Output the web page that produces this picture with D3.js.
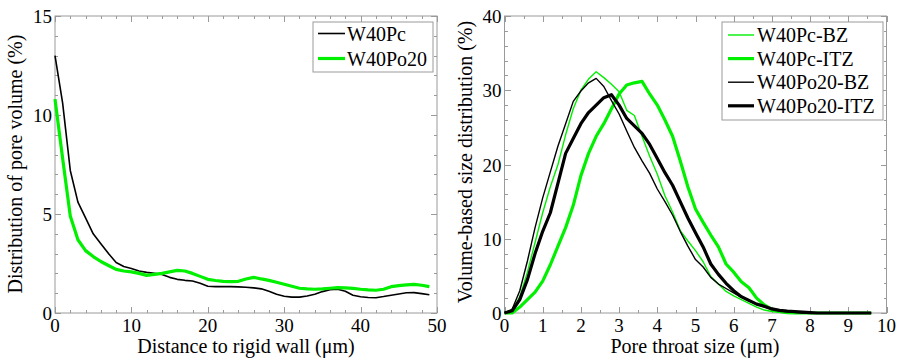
<!DOCTYPE html>
<html>
<head>
<meta charset="utf-8">
<script src="https://cdn.jsdelivr.net/npm/d3@7"></script>
<style>
  html, body { margin: 0; padding: 0; background: #fff; }
  svg text { font-family: "Liberation Serif", "Times New Roman", serif; fill: #000; }
</style>
</head>
<body>
<svg id="chart" width="903" height="359"></svg>
<script>
// ---------- Left panel data ----------
const distance = [0,1,2,3,4,5,6,7,8,9,10,11,12,13,14,15,16,17,18,19,20,21,22,23,24,25,26,27,28,29,30,31,32,33,34,35,36,37,38,39,40,41,42,43,44,45,46,47,48,49];
const W40Pc = [13.0,10.6,7.2,5.6,4.8,4.0,3.5,3.0,2.55,2.35,2.25,2.12,2.05,2.0,1.95,1.8,1.7,1.65,1.62,1.5,1.35,1.33,1.33,1.33,1.32,1.3,1.27,1.22,1.1,0.95,0.85,0.8,0.8,0.86,0.95,1.08,1.18,1.2,1.1,0.9,0.82,0.78,0.77,0.83,0.9,0.96,1.02,1.03,0.98,0.92];
const W40Po20 = [10.8,7.8,4.9,3.7,3.15,2.85,2.6,2.4,2.2,2.12,2.08,2.0,1.9,1.95,2.0,2.08,2.15,2.12,2.0,1.85,1.7,1.64,1.6,1.58,1.6,1.72,1.8,1.72,1.65,1.55,1.45,1.35,1.25,1.22,1.2,1.22,1.25,1.28,1.27,1.24,1.2,1.17,1.15,1.2,1.33,1.38,1.42,1.45,1.4,1.33];
const leftXTicks = [0,10,20,30,40,50];
const leftYTicks = [0,5,10,15];

// ---------- Right panel data ----------
const throatSize = [0,0.2,0.4,0.6,0.8,1,1.2,1.4,1.6,1.8,2,2.2,2.4,2.6,2.8,3,3.2,3.4,3.6,3.8,4,4.2,4.4,4.6,4.8,5,5.2,5.4,5.6,5.8,6,6.2,6.4,6.6,6.8,7,7.2,7.4,7.6,7.8,8,8.2,8.4,8.6,8.8,9,9.2,9.4,9.6];
const W40Pc_BZ = [0,0.2,2.2,5.5,9.5,13.5,17,20,24,27.5,30,31.5,32.5,31.7,30.8,29.8,27.3,26.6,23.8,21.1,18.7,15.8,13.6,11.1,9.7,8.4,6.9,4.9,3.9,2.9,2.3,1.8,1.3,0.8,0.4,0.2,0.1,0,0,0,0,0,0,0,0,0,0,0,0];
const W40Pc_ITZ = [0,0,0.8,1.8,2.8,4.3,6.5,9,11.5,14.5,18.5,21.5,23.8,25.5,27.5,29.5,30.7,31,31.2,29.5,28,26,23.8,20.5,17,14,12.2,10.5,8.9,6.6,5.5,4.2,3.4,2.0,1.1,0.5,0.2,0.05,0,0,0,0,0,0,0,0,0,0,0];
const W40Po20_BZ = [0,0.5,3,7,11.5,15.5,19,22.5,25.5,28.5,29.9,31,31.6,30.5,28.6,26.8,24.5,22.3,20.5,18.8,16.7,15,13.2,11,9,7.2,6.2,4.8,3.9,3.3,2.7,2.1,1.6,1.2,0.8,0.55,0.3,0.15,0.05,0,0,0,0,0,0,0,0,0,0];
const W40Po20_ITZ = [0,0.3,1.8,4.5,8,11,13.5,17.5,21.5,23.5,25.5,27,28,29,29.4,28,26.2,25.2,24.2,22.7,20.8,18.9,17.2,15,12.8,10.8,8.9,6.6,5.2,4.0,3.0,2.2,1.7,1.2,0.9,0.55,0.35,0.25,0.2,0.12,0.05,0,0,0,0,0,0,0,0];
const rightXTicks = [0,1,2,3,4,5,6,7,8,9,10];
const rightYTicks = [0,10,20,30,40];

const GREEN = "#00f000";
const FRAME = "#9a9a9a";

const svg = d3.select("#chart");

function panel(opts) {
  const g = svg.append("g");
  const x = d3.scaleLinear().domain(opts.xDomain).range(opts.xRange);
  const y = d3.scaleLinear().domain(opts.yDomain).range(opts.yRange);
  const [x0, x1] = opts.xRange, [y0, y1] = opts.yRange;

  // minor + major ticks (inward, on all four sides)
  const tickG = g.append("g").attr("stroke", FRAME).attr("stroke-width", 1).attr("shape-rendering", "crispEdges");
  opts.xMinor.forEach(v => {
    const major = opts.xTicks.includes(v);
    const L = major ? 6 : 3;
    const px = Math.round(x(v)) + 0.5;
    tickG.append("line").attr("x1", px).attr("x2", px).attr("y1", y0).attr("y2", y0 - L);
    tickG.append("line").attr("x1", px).attr("x2", px).attr("y1", y1).attr("y2", y1 + L);
  });
  opts.yMinor.forEach(v => {
    const major = opts.yTicks.includes(v);
    const L = major ? 6 : 3;
    const py = Math.round(y(v)) + 0.5;
    tickG.append("line").attr("x1", x0).attr("x2", x0 + L).attr("y1", py).attr("y2", py);
    tickG.append("line").attr("x1", x1).attr("x2", x1 - L).attr("y1", py).attr("y2", py);
  });

  // frame
  g.append("rect").attr("x", x0).attr("y", y1).attr("width", x1 - x0).attr("height", y0 - y1)
    .attr("fill", "none").attr("stroke", FRAME).attr("stroke-width", 1);

  // tick labels
  g.selectAll(".xl").data(opts.xTicks).enter().append("text")
    .attr("x", d => x(d)).attr("y", y0 + 19).attr("text-anchor", "middle")
    .attr("font-size", 19).text(d => d);
  g.selectAll(".yl").data(opts.yTicks).enter().append("text")
    .attr("x", x0 - 3).attr("y", d => y(d) + 7).attr("text-anchor", "end")
    .attr("font-size", 19).text(d => d);

  // axis titles
  g.append("text").attr("x", opts.xTitlePos[0]).attr("y", opts.xTitlePos[1]).attr("text-anchor", "middle")
    .attr("font-size", 20).text(opts.xTitle);
  g.append("text").attr("transform", `translate(${opts.yTitlePos[0]},${opts.yTitlePos[1]}) rotate(-90)`)
    .attr("text-anchor", "middle").attr("font-size", 20).text(opts.yTitle);

  // series
  const line = d3.line().x(d => x(d[0])).y(d => y(d[1]));
  opts.series.forEach(s => {
    g.append("path").datum(opts.xs.map((xv, i) => [xv, s.values[i]]))
      .attr("fill", "none").attr("stroke", s.color).attr("stroke-width", s.width)
      .attr("stroke-linejoin", "round").attr("d", line);
  });

  // legend
  const lg = opts.legend;
  g.append("rect").attr("x", lg.x).attr("y", lg.y).attr("width", lg.w).attr("height", lg.h)
    .attr("fill", "#fff").attr("stroke", FRAME).attr("stroke-width", 1);
  opts.series.forEach((s, i) => {
    const cy = lg.y + lg.first + i * lg.step;
    g.append("line").attr("x1", lg.x + lg.lx0).attr("x2", lg.x + lg.lx1).attr("y1", cy).attr("y2", cy)
      .attr("stroke", s.color).attr("stroke-width", s.width);
    g.append("text").attr("x", lg.x + lg.tx).attr("y", cy + 7).attr("font-size", 20).text(s.name);
  });
}

panel({
  xDomain: [0, 50], yDomain: [0, 15],
  xRange: [55, 437], yRange: [313, 16],
  xTicks: leftXTicks, yTicks: leftYTicks,
  xMinor: d3.range(0, 50.1, 2).concat(leftXTicks).filter((v, i, a) => a.indexOf(v) === i),
  yMinor: d3.range(0, 15.1, 1),
  xTitle: "Distance to rigid wall (\u03bcm)", xTitlePos: [246, 353],
  yTitle: "Distribution of pore volume (%)", yTitlePos: [22, 164],
  xs: distance,
  series: [
    { name: "W40Pc", values: W40Pc, color: "#000", width: 1.6 },
    { name: "W40Po20", values: W40Po20, color: GREEN, width: 3.2 }
  ],
  legend: { x: 313, y: 22, w: 120, h: 50, first: 11.5, step: 25, lx0: 5, lx1: 32, tx: 34 }
});

panel({
  xDomain: [0, 10], yDomain: [0, 40],
  xRange: [504.5, 886.5], yRange: [313, 16],
  xTicks: rightXTicks, yTicks: rightYTicks,
  xMinor: d3.range(0, 10.01, 0.5).map(v => +v.toFixed(1)),
  yMinor: d3.range(0, 40.1, 2),
  xTitle: "Pore throat size (\u03bcm)", xTitlePos: [695, 353],
  yTitle: "Volume-based size distribution (%)", yTitlePos: [472, 162],
  xs: throatSize,
  series: [
    { name: "W40Pc-BZ", values: W40Pc_BZ, color: GREEN, width: 1.4 },
    { name: "W40Pc-ITZ", values: W40Pc_ITZ, color: GREEN, width: 3.2 },
    { name: "W40Po20-BZ", values: W40Po20_BZ, color: "#000", width: 1.4 },
    { name: "W40Po20-ITZ", values: W40Po20_ITZ, color: "#000", width: 3.2 }
  ],
  legend: { x: 722, y: 22, w: 161, h: 98, first: 13, step: 23.6, lx0: 6, lx1: 32, tx: 35 }
});
</script>
</body>
</html>
